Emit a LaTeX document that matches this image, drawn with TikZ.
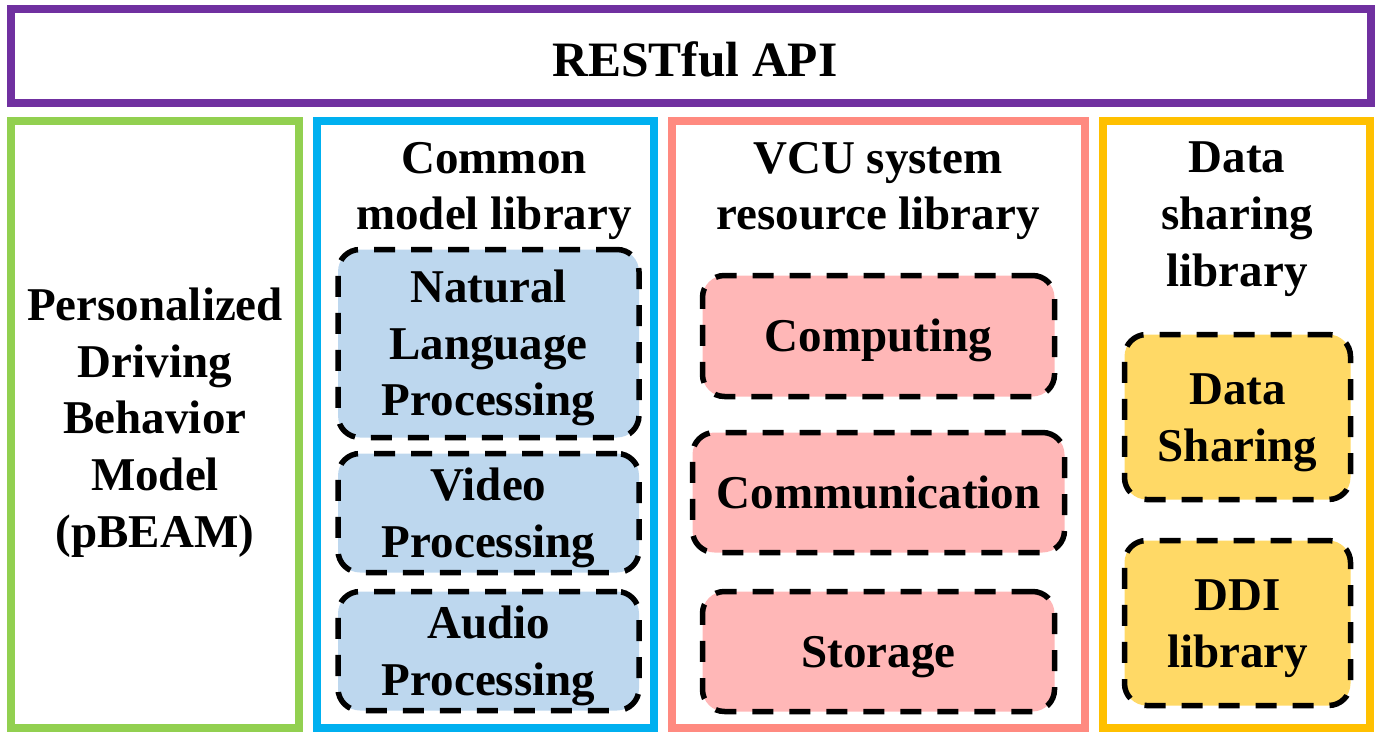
\documentclass[tikz,border=0pt]{standalone}
\usepackage{fontspec}
\setmainfont{Liberation Serif}
\definecolor{cpurple}{HTML}{7030A0}
\definecolor{cgreen}{HTML}{92D050}
\definecolor{cblue}{HTML}{00B0F0}
\definecolor{cred}{HTML}{FF8A80}
\definecolor{corange}{HTML}{FFC000}
\definecolor{fblue}{HTML}{BDD7EE}
\definecolor{fred}{HTML}{FFB7B7}
\definecolor{forange}{HTML}{FFD966}
\newcommand{\lnst}{\rule[-10.2pt]{0pt}{52.1pt}}
\tikzset{
  txt/.style={inner sep=0pt, align=center,
    font=\bfseries\fontsize{47}{56.7}\selectfont},
  frame/.style={draw, line width=8pt, inner sep=0pt},
  ibox/.style={txt, draw=black, line width=5.5pt, dash pattern=on 21pt off 16pt,
    rounded corners=22pt}
}
\begin{document}
\begin{tikzpicture}[x=1pt,y=-1pt]
\useasboundingbox (0,0) rectangle (1381,741);
% outer frames
\node[frame, draw=cpurple, minimum width=1360pt, minimum height=93.5pt] (api) at (691,56.25) {};
\node[frame, draw=cgreen, minimum width=287.5pt, minimum height=607pt] (pbeam) at (154.75,424.5) {};
\node[frame, draw=cblue, minimum width=337pt, minimum height=607pt] (cml) at (485.5,424.5) {};
\node[frame, draw=cred, minimum width=413pt, minimum height=607pt] (vcu) at (878.5,424.5) {};
\node[frame, draw=corange, minimum width=267pt, minimum height=607pt] (dsl) at (1236.5,424.5) {};
% titles
\node[inner sep=0pt, anchor=base, font=\bfseries\fontsize{49.5}{60}\selectfont] (apit) at (695,77) {RESTful API};
\node[txt] (pbeamt) at (155,418) {\lnst Personalized\lnst\\\lnst Driving\lnst\\\lnst Behavior\lnst\\\lnst Model\lnst\\\lnst(pBEAM)\lnst};
\node[txt] (cmlt) at (494,185.5) {\lnst Common\lnst\\\lnst model library\lnst};
\node[txt] (vcut) at (878,185.5) {\lnst VCU system\lnst\\\lnst resource library\lnst};
\node[txt] (dslt) at (1237,213.5) {\lnst Data\lnst\\\lnst sharing\lnst\\\lnst library\lnst};
% inner boxes
\node[ibox, fill=fblue, minimum width=301pt, minimum height=188pt] (nlp) at (488.5,343.5)
  {\lnst Natural\lnst\\\lnst Language\lnst\\\lnst Processing\lnst};
\node[ibox, fill=fblue, minimum width=301pt, minimum height=119pt] (video) at (488.5,513)
  {\lnst Video\lnst\\\lnst Processing\lnst};
\node[ibox, fill=fblue, minimum width=301pt, minimum height=119pt] (audio) at (488.5,651)
  {\lnst Audio\lnst\\\lnst Processing\lnst};
\node[ibox, fill=fred, minimum width=352pt, minimum height=121pt] (comp) at (878.5,336)
  {\lnst Computing\lnst};
\node[ibox, fill=fred, minimum width=372pt, minimum height=120pt] (comm) at (878.5,492.5)
  {\lnst Communication\lnst};
\node[ibox, fill=fred, minimum width=352pt, minimum height=120pt] (stor) at (878.5,651.5)
  {\lnst Storage\lnst};
\node[ibox, fill=forange, minimum width=226pt, minimum height=165pt] (share) at (1237.5,417)
  {\lnst Data\lnst\\\lnst Sharing\lnst};
\node[ibox, fill=forange, minimum width=226pt, minimum height=165pt] (ddi) at (1237.5,623)
  {\lnst DDI\lnst\\\lnst library\lnst};
\end{tikzpicture}
\end{document}
